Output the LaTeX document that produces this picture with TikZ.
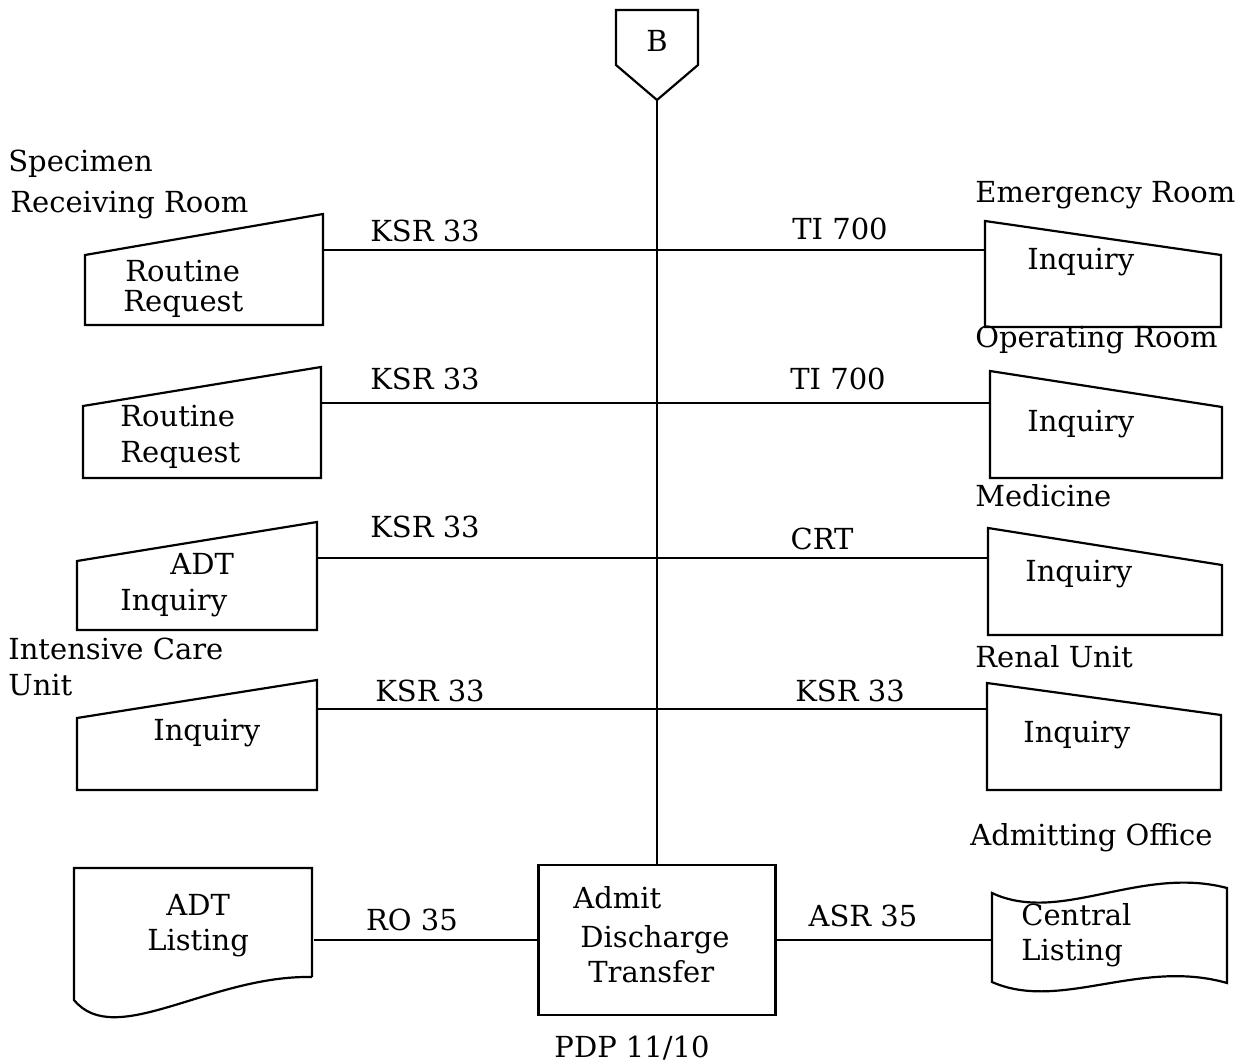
\documentclass[tikz,border=0pt]{standalone}
\usepackage{fontspec}
\setmainfont{DejaVu Serif}
\usepackage{tikz}

\begin{document}
\begin{tikzpicture}[x=0.02cm, y=-0.02cm,
	every node/.style={font=\fontsize{16.5}{19}\selectfont, inner sep=0pt},
	txt/.style={anchor=base west},
	lbl/.style={anchor=base},
	outline/.style={line width=1.25pt, line join=miter},
	wire/.style={line width=0.9pt}]

	\useasboundingbox (0,0) rectangle (1249,1064);

	% off-page connector
	\draw[outline] (616,10) -- (698,10) -- (698,65) -- (657,100) -- (616,65) -- cycle;
	\node (b) [lbl] at (657,52) {B};
	\coordinate (btip) at (657,100);

	% processor
	\node (adt) [draw, line width=1.25pt, minimum width=4.74cm, minimum height=3cm] at (657,940) {};
	\node (adt1) [txt] at (573,908) {Admit};
	\node (adt2) [txt] at (580,947) {Discharge};
	\node (adt3) [txt] at (588,982) {Transfer};
	\node (pdp) [lbl] at (632,1057) {PDP 11/10};

	% left terminals
	\draw[outline] (85,325) -- (85,255) -- (323,214) -- (323,325) -- cycle;
	\draw[outline] (83,478) -- (83,406) -- (321,367) -- (321,478) -- cycle;
	\draw[outline] (77,630) -- (77,561) -- (317,522) -- (317,630) -- cycle;
	\draw[outline] (77,790) -- (77,718) -- (317,680) -- (317,790) -- cycle;

	% right terminals
	\draw[outline] (985,327) -- (985,221) -- (1221,255) -- (1221,327) -- cycle;
	\draw[outline] (990,478) -- (990,371) -- (1222,407) -- (1222,478) -- cycle;
	\draw[outline] (988,635) -- (988,528) -- (1222,565) -- (1222,635) -- cycle;
	\draw[outline] (987,790) -- (987,683) -- (1221,715) -- (1221,790) -- cycle;

	% listings
	\draw[outline] (312,977) -- (312,868) -- (74,868) -- (74,1000)
		.. controls (115,1050) and (210,975) .. (312,977);
	\draw[outline] (992,893) .. controls (1060,925) and (1140,865) .. (1227,888)
		-- (1227,983) .. controls (1140,958) and (1060,1012) .. (992,982) -- cycle;

	% text in the shapes
	\node (rr1a) [txt] at (125,282) {Routine};
	\node (rr1b) [txt] at (123,312) {Request};
	\node (rr2a) [txt] at (120,427) {Routine};
	\node (rr2b) [txt] at (120,463) {Request};
	\node (aq1) [txt] at (170,575) {ADT};
	\node (aq2) [txt] at (120,610) {Inquiry};
	\node (iq4) [txt] at (153,740) {Inquiry};
	\node (iq1r) [txt] at (1027,270) {Inquiry};
	\node (iq2r) [txt] at (1027,432) {Inquiry};
	\node (iq3r) [txt] at (1025,582) {Inquiry};
	\node (iq4r) [txt] at (1023,742) {Inquiry};
	\node (al1) [txt] at (166,915) {ADT};
	\node (al2) [txt] at (147,950) {Listing};
	\node (cl1) [txt] at (1021,925) {Central};
	\node (cl2) [txt] at (1021,960) {Listing};

	% locations
	\node (spec1) [txt] at (8,172) {Specimen};
	\node (spec2) [txt] at (10,213) {Receiving Room};
	\node (emer) [txt] at (975,203) {Emergency Room};
	\node (oper) [txt] at (975,348) {Operating Room};
	\node (medi) [txt] at (975,507) {Medicine};
	\node (icu1) [txt] at (8,660) {Intensive Care};
	\node (icu2) [txt] at (8,695) {Unit};
	\node (renal) [txt] at (975,667) {Renal Unit};
	\node (admo) [txt] at (970,845) {Admitting Office};

	% line ends
	\coordinate (rq1) at (323,250);
	\coordinate (er) at (985,250);
	\coordinate (rq2) at (321,403);
	\coordinate (orm) at (990,403);
	\coordinate (adtq) at (317,558);
	\coordinate (med) at (988,558);
	\coordinate (icu) at (317,709);
	\coordinate (ren) at (987,709);
	\coordinate (adtl) at (314,940);
	\coordinate (cen) at (992,940);

	\path[wire]
	(btip) edge (adt)
	(rq1) edge (er)
	(rq2) edge (orm)
	(adtq) edge (med)
	(icu) edge (ren)
	(adtl) edge (adt)
	(adt) edge (cen);

	% line labels
	\node (k1) [lbl] at (425,242) {KSR 33};
	\node (t1) [lbl] at (840,240) {TI 700};
	\node (k2) [lbl] at (425,390) {KSR 33};
	\node (t2) [lbl] at (838,390) {TI 700};
	\node (k3) [lbl] at (425,538) {KSR 33};
	\node (crt) [lbl] at (822,550) {CRT};
	\node (k4) [lbl] at (430,702) {KSR 33};
	\node (k5) [lbl] at (850,702) {KSR 33};
	\node (ro) [lbl] at (412,930) {RO 35};
	\node (asr) [lbl] at (863,926) {ASR 35};

\end{tikzpicture}
\end{document}
